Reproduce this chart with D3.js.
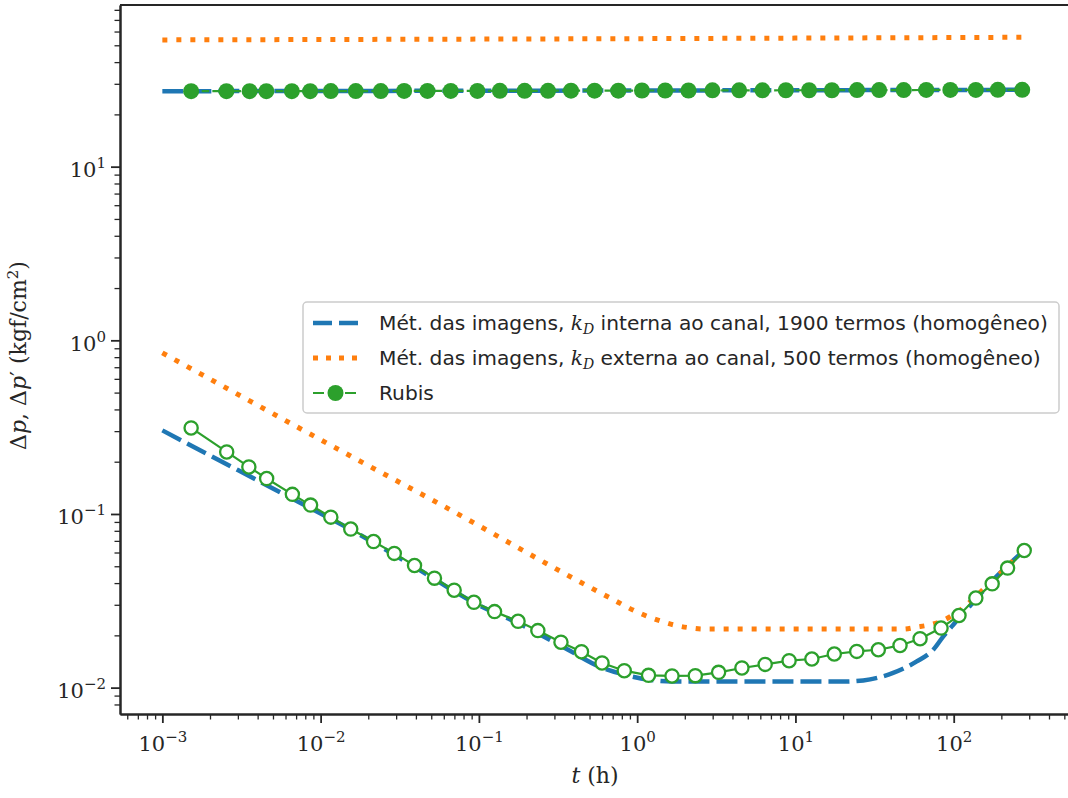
<!DOCTYPE html>
<html>
<head>
<meta charset="utf-8">
<script src="https://cdn.jsdelivr.net/npm/d3@7/dist/d3.min.js"></script>
<style>
  body { margin: 0; background: #fff; }
  svg { display: block; }
</style>
</head>
<body>
<svg id="chart" width="1068" height="798"></svg>
<script>
'use strict';

// ---- data ----
// Rubis, delta p (filled markers, dashed line)
const tRubisDp = [0.00152, 0.00254, 0.00356, 0.00454, 0.00658, 0.00859, 0.0116, 0.01668, 0.024, 0.0337,
  0.0473, 0.0664, 0.0978, 0.1357, 0.1945, 0.2734, 0.382, 0.538, 0.76, 1.072, 1.504, 2.11, 2.99, 4.41,
  6.19, 8.7, 12.2, 17.0, 24.5, 33.8, 48.3, 67.1, 95.2, 138, 190, 271];
const vRubisDp = [27.2, 27.2, 27.2, 27.2, 27.2, 27.2, 27.25, 27.25, 27.25, 27.3, 27.3, 27.3, 27.3, 27.35,
  27.35, 27.35, 27.4, 27.4, 27.4, 27.45, 27.45, 27.45, 27.5, 27.5, 27.5, 27.55, 27.55, 27.55, 27.6,
  27.6, 27.6, 27.65, 27.65, 27.65, 27.7, 27.7];

// Rubis, derivative (open markers, solid line)
const tRubisDer = [0.00152, 0.00255, 0.00352, 0.00456, 0.00663, 0.00864, 0.0116, 0.0155, 0.0216, 0.0292,
  0.0392, 0.0524, 0.0698, 0.093, 0.1256, 0.1768, 0.2358, 0.33, 0.445, 0.6, 0.829, 1.18, 1.66, 2.33,
  3.27, 4.59, 6.44, 9.12, 12.7, 17.6, 24.4, 33.4, 45.8, 61.3, 83.2, 108, 138, 175, 219, 279];
const vRubisDer = [0.313, 0.2276, 0.1866, 0.160, 0.1297, 0.1125, 0.0959, 0.0819, 0.0694, 0.0593,
  0.0505, 0.0427, 0.0364, 0.031, 0.0274, 0.0241, 0.0213, 0.01826, 0.0161, 0.01387, 0.01252, 0.01177,
  0.01168, 0.01172, 0.01225, 0.01298, 0.01361, 0.01429, 0.01462, 0.01562, 0.01617, 0.01653, 0.0175,
  0.01913, 0.02204, 0.02603, 0.0328, 0.0396, 0.0488, 0.0616];

// images method, k_D internal (blue dashed)
const tIntDp = [0.001, 1, 290];
const vIntDp = [27.2, 27.45, 27.7];
const tIntDer = [0.001, 0.003, 0.01, 0.0154, 0.04, 0.1, 0.176, 0.33, 0.6, 0.829, 1.18, 1.66, 3, 10, 20,
  26.8, 41.4, 58.4, 74.3, 86, 99.4, 120.8, 177.8, 288];
const vIntDer = [0.303, 0.179, 0.1005, 0.0815, 0.049, 0.0298, 0.02355, 0.01744, 0.01303, 0.01189,
  0.01111, 0.01085, 0.01083, 0.01083, 0.01083, 0.0110, 0.01215, 0.01416, 0.01654, 0.01972, 0.02303,
  0.0281, 0.0418, 0.0633];

// images method, k_D external (orange dotted)
const tExtDp = [0.001, 1, 290];
const vExtDp = [53.7, 54.6, 55.6];
const tExtDer = [0.001, 0.01545, 0.0661, 0.276, 0.47, 0.676, 0.983, 1.19, 1.434, 1.758, 2.13, 2.63, 10,
  48.1, 58.4, 70.9, 86, 106.8, 177.8, 288];
const vExtDer = [0.847, 0.2158, 0.1056, 0.051, 0.0391, 0.0328, 0.02746, 0.0255, 0.02405, 0.02281,
  0.02213, 0.02176, 0.02176, 0.02176, 0.02234, 0.02303, 0.02438, 0.02746, 0.0418, 0.0633];

const xMajor = [1e-3, 1e-2, 1e-1, 1, 10, 100];
const yMajor = [1e-2, 1e-1, 1, 10];

const legendLabels = [
  ['Mét. das imagens, ', ' interna ao canal, 1900 termos (homogêneo)'],
  ['Mét. das imagens, ', ' externa ao canal, 500 termos (homogêneo)'],
  ['Rubis']
];

// ---- style ----
const C_BLUE = '#1f77b4';
const C_ORANGE = '#ff7f0e';
const C_GREEN = '#2ca02c';
const C_AXIS = '#262626';
const SERIF = '"DejaVu Serif", "Liberation Serif", serif';
const SANS = '"DejaVu Sans", "Liberation Sans", sans-serif';

const plot = { left: 120, right: 1070, top: 5, bottom: 714 };

const svg = d3.select('#chart');

const x = d3.scaleLog().domain([5.4e-4, 543]).range([plot.left, plot.right]);
const y = d3.scaleLog().domain([0.00705, 85.3]).range([plot.bottom, plot.top]);

function zip(ts, vs) {
  return ts.map(function(t, i) { return [t, vs[i]]; });
}

function minorTicks(scale) {
  const dom = scale.domain();
  const out = [];
  for (let e = -5; e <= 3; e++) {
    for (let k = 2; k <= 9; k++) {
      const v = k * Math.pow(10, e);
      if (v >= dom[0] && v <= dom[1]) out.push(v);
    }
  }
  return out;
}

// ---- marks ----
svg.append('clipPath').attr('id', 'plot-clip')
  .append('rect')
  .attr('x', plot.left).attr('y', plot.top)
  .attr('width', plot.right - plot.left).attr('height', plot.bottom - plot.top);

const gPlot = svg.append('g').attr('clip-path', 'url(#plot-clip)');

const line = d3.line()
  .x(function(d) { return x(d[0]); })
  .y(function(d) { return y(d[1]); });
const smooth = d3.line()
  .curve(d3.curveMonotoneX)
  .x(function(d) { return x(d[0]); })
  .y(function(d) { return y(d[1]); });

// blue dashed
[zip(tIntDp, vIntDp), zip(tIntDer, vIntDer)].forEach(function(data) {
  gPlot.append('path')
    .attr('d', smooth(data))
    .attr('fill', 'none')
    .attr('stroke', C_BLUE)
    .attr('stroke-width', 4.5)
    .attr('stroke-dasharray', '21,7');
});

// orange dotted
[zip(tExtDp, vExtDp), zip(tExtDer, vExtDer)].forEach(function(data) {
  gPlot.append('path')
    .attr('d', smooth(data))
    .attr('fill', 'none')
    .attr('stroke', C_ORANGE)
    .attr('stroke-width', 5)
    .attr('stroke-dasharray', '5,9');
});

// Rubis delta p
const rubisDp = zip(tRubisDp, vRubisDp);
gPlot.append('path')
  .attr('d', line(rubisDp))
  .attr('fill', 'none')
  .attr('stroke', C_GREEN)
  .attr('stroke-width', 2.2)
  .attr('stroke-dasharray', '7.4,3.2');
gPlot.selectAll('.rubis-dp')
  .data(rubisDp)
  .enter()
  .append('circle')
  .attr('class', 'rubis-dp')
  .attr('cx', function(d) { return x(d[0]); })
  .attr('cy', function(d) { return y(d[1]); })
  .attr('r', 8)
  .attr('fill', C_GREEN);

// Rubis derivative
const rubisDer = zip(tRubisDer, vRubisDer);
gPlot.append('path')
  .attr('d', line(rubisDer))
  .attr('fill', 'none')
  .attr('stroke', C_GREEN)
  .attr('stroke-width', 2.2);
gPlot.selectAll('.rubis-der')
  .data(rubisDer)
  .enter()
  .append('circle')
  .attr('class', 'rubis-der')
  .attr('cx', function(d) { return x(d[0]); })
  .attr('cy', function(d) { return y(d[1]); })
  .attr('r', 6.6)
  .attr('fill', '#fff')
  .attr('stroke', C_GREEN)
  .attr('stroke-width', 2.3);

// ---- axes ----
function styleAxis(g) {
  g.selectAll('path, line').attr('stroke', C_AXIS);
  g.select('.domain').attr('stroke-width', 2);
}

const gxMinor = svg.append('g')
  .attr('transform', 'translate(0,' + plot.bottom + ')')
  .call(d3.axisBottom(x).tickValues(minorTicks(x)).tickSize(5.5).tickSizeOuter(0).tickFormat(''));
styleAxis(gxMinor);
gxMinor.selectAll('.tick line').attr('stroke-width', 1.3);

const gxMajor = svg.append('g')
  .attr('transform', 'translate(0,' + plot.bottom + ')')
  .call(d3.axisBottom(x).tickValues(xMajor).tickSize(9).tickSizeOuter(0).tickFormat(''));
styleAxis(gxMajor);
gxMajor.selectAll('.tick line').attr('stroke-width', 1.8);

const gyMinor = svg.append('g')
  .attr('transform', 'translate(' + plot.left + ',0)')
  .call(d3.axisLeft(y).tickValues(minorTicks(y)).tickSize(5.5).tickSizeOuter(0).tickFormat(''));
styleAxis(gyMinor);
gyMinor.selectAll('.tick line').attr('stroke-width', 1.3);

const gyMajor = svg.append('g')
  .attr('transform', 'translate(' + plot.left + ',0)')
  .call(d3.axisLeft(y).tickValues(yMajor).tickSize(9).tickSizeOuter(0).tickFormat(''));
styleAxis(gyMajor);
gyMajor.selectAll('.tick line').attr('stroke-width', 1.8);

// top and right spines
svg.append('line')
  .attr('x1', plot.left).attr('x2', plot.right)
  .attr('y1', plot.top).attr('y2', plot.top)
  .attr('stroke', C_AXIS).attr('stroke-width', 2);
svg.append('line')
  .attr('x1', plot.right).attr('x2', plot.right)
  .attr('y1', plot.top).attr('y2', plot.bottom)
  .attr('stroke', C_AXIS).attr('stroke-width', 2);

// power-of-ten labels
function powLabel(sel, v) {
  const e = Math.round(Math.log10(v));
  sel.append('tspan').text('10');
  sel.append('tspan')
    .attr('dy', -9)
    .attr('font-size', 15)
    .text(e < 0 ? '\u2212' + (-e) : String(e));
}

gxMajor.selectAll('.tick').each(function(d) {
  const t = d3.select(this).append('text')
    .attr('y', 37)
    .attr('fill', C_AXIS)
    .attr('font-family', SERIF)
    .attr('font-size', 21)
    .attr('text-anchor', 'middle');
  powLabel(t, d);
});

gyMajor.selectAll('.tick').each(function(d) {
  const t = d3.select(this).append('text')
    .attr('x', -14)
    .attr('y', 10)
    .attr('fill', C_AXIS)
    .attr('font-family', SERIF)
    .attr('font-size', 21)
    .attr('text-anchor', 'end');
  powLabel(t, d);
});

// axis titles
const xTitle = svg.append('text')
  .attr('x', (plot.left + plot.right) / 2)
  .attr('y', 783)
  .attr('fill', C_AXIS)
  .attr('font-family', SERIF)
  .attr('font-size', 22)
  .attr('text-anchor', 'middle');
xTitle.append('tspan').attr('font-style', 'italic').text('t');
xTitle.append('tspan').text(' (h)');

const yTitle = svg.append('text')
  .attr('transform', 'translate(26,' + ((plot.top + plot.bottom) / 2 - 4) + ') rotate(-90)')
  .attr('fill', C_AXIS)
  .attr('font-family', SERIF)
  .attr('font-size', 22)
  .attr('text-anchor', 'middle');
yTitle.append('tspan').text('\u0394');
yTitle.append('tspan').attr('font-style', 'italic').text('p');
yTitle.append('tspan').text(', \u0394');
yTitle.append('tspan').attr('font-style', 'italic').text('p');
yTitle.append('tspan').text('\u2032 (kgf/cm');
yTitle.append('tspan').attr('dy', -8).attr('font-size', 15).text('2');
yTitle.append('tspan').attr('dy', 8).text(')');

// ---- legend ----
const legend = svg.append('g').attr('transform', 'translate(303,302)');
legend.append('rect')
  .attr('x', 0).attr('y', 0)
  .attr('width', 756).attr('height', 111)
  .attr('rx', 4)
  .attr('fill', '#fff')
  .attr('fill-opacity', 0.85)
  .attr('stroke', '#cccccc')
  .attr('stroke-width', 1.5);

const rowY = [21, 56, 91];
const sampleX = [10, 55];

legend.append('line')
  .attr('x1', sampleX[0]).attr('x2', sampleX[1])
  .attr('y1', rowY[0]).attr('y2', rowY[0])
  .attr('stroke', C_BLUE).attr('stroke-width', 4.5).attr('stroke-dasharray', '19,7');
legend.append('line')
  .attr('x1', sampleX[0]).attr('x2', sampleX[1])
  .attr('y1', rowY[1]).attr('y2', rowY[1])
  .attr('stroke', C_ORANGE).attr('stroke-width', 5).attr('stroke-dasharray', '5,8');
legend.append('line')
  .attr('x1', sampleX[0]).attr('x2', sampleX[1])
  .attr('y1', rowY[2]).attr('y2', rowY[2])
  .attr('stroke', C_GREEN).attr('stroke-width', 2.2).attr('stroke-dasharray', '11,5');
legend.append('circle')
  .attr('cx', (sampleX[0] + sampleX[1]) / 2).attr('cy', rowY[2])
  .attr('r', 8).attr('fill', C_GREEN);

legendLabels.forEach(function(parts, i) {
  const t = legend.append('text')
    .attr('x', 76)
    .attr('y', rowY[i] + 7)
    .attr('fill', C_AXIS)
    .attr('font-family', SANS)
    .attr('font-size', 20.2);
  t.append('tspan').text(parts[0]);
  if (parts.length > 1) {
    t.append('tspan').attr('font-family', SERIF).attr('font-style', 'italic').text('k');
    t.append('tspan').attr('font-family', SERIF).attr('font-style', 'italic')
      .attr('font-size', 14).attr('dy', 4).text('D');
    t.append('tspan').attr('dy', -4).text(parts[1]);
  }
});
</script>
</body>
</html>
